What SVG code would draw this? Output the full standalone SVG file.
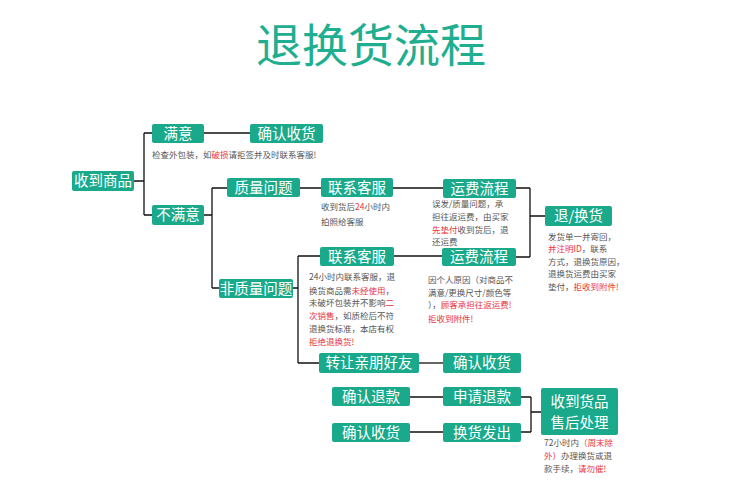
<svg xmlns="http://www.w3.org/2000/svg" width="750" height="480" viewBox="0 0 750 480">
<style>
.b{fill:#1aa98b}
.t{font-family:"Noto Sans CJK SC","Noto Sans",sans-serif;fill:#fff;font-size:14.5px;text-anchor:middle}
.s{font-family:"Noto Sans CJK SC","Noto Sans",sans-serif;fill:#555;font-size:8.5px}
.r{fill:#e8333c}
.c{fill:none;stroke:#111;stroke-width:1.3}
</style>
<rect width="750" height="480" fill="#fff"/>
<text x="371" y="62" style="font-family:'Noto Sans CJK SC',sans-serif;font-size:46px;fill:#1fae90;text-anchor:middle">退换货流程</text>
<g id="connectors">
<path class="c" d="M134 181H144M144 133V215M144 133H152M144 215H152"/>
<path class="c" d="M204 133H250"/>
<path class="c" d="M204 215H212M212 188V288M212 188H227M212 288H219"/>
<path class="c" d="M300 188H321M393 188H443"/>
<path class="c" d="M516 188H530M530 188V257M516 257H530M530 216H545"/>
<path class="c" d="M293 288H298M298 256V363M298 256H320M298 363H319"/>
<path class="c" d="M394 256H442"/>
<path class="c" d="M419 363H443"/>
<path class="c" d="M410 397H443M410 432H443"/>
<path class="c" d="M521 397H531M521 432H531M531 397V432M531 412H541"/>
</g>
<g id="n1"><rect class="b" x="72" y="171" width="62" height="20" rx="2"/><text class="t" x="103" y="186">收到商品</text></g>
<g id="n2"><rect class="b" x="152" y="124" width="52" height="19" rx="2"/><text class="t" x="178" y="139">满意</text></g>
<g id="n3"><rect class="b" x="250" y="124" width="73" height="19" rx="2"/><text class="t" x="286.5" y="139">确认收货</text></g>
<text class="s" x="152" y="158">检查外包装，如<tspan class="r">破损</tspan>请拒签并及时联系客服!</text>
<g id="n4"><rect class="b" x="152" y="205" width="52" height="20" rx="2"/><text class="t" x="178" y="220">不满意</text></g>
<g id="n5"><rect class="b" x="227" y="178" width="73" height="19" rx="2"/><text class="t" x="263.5" y="193">质量问题</text></g>
<g id="n6"><rect class="b" x="321" y="178" width="72" height="19" rx="2"/><text class="t" x="357" y="193">联系客服</text></g>
<text class="s" x="321" y="210">收到货后<tspan class="r">24</tspan>小时内</text>
<text class="s" x="321" y="225">拍照给客服</text>
<g id="n7"><rect class="b" x="443" y="179" width="73" height="19" rx="2"/><text class="t" x="479.5" y="194">运费流程</text></g>
<text class="s" x="432" y="207">误发/质量问题，承</text>
<text class="s" x="432" y="220">担往返运费，由买家</text>
<text class="s" x="432" y="233"><tspan class="r">先垫付</tspan>收到货后，退</text>
<text class="s" x="432" y="245">还运费</text>
<g id="n8"><rect class="b" x="545" y="206" width="67" height="20" rx="2"/><text class="t" x="578.5" y="221">退/换货</text></g>
<text class="s" x="548" y="240">发货单一并寄回，</text>
<text class="s" x="548" y="252"><tspan class="r">并注明ID</tspan>，联系</text>
<text class="s" x="548" y="265">方式，退换货原因，</text>
<text class="s" x="548" y="277">退换货运费由买家</text>
<text class="s" x="548" y="290">垫付，<tspan class="r">拒收到附件!</tspan></text>
<g id="n9"><rect class="b" x="219" y="279" width="74" height="19" rx="2"/><text class="t" x="256" y="294">非质量问题</text></g>
<g id="n10"><rect class="b" x="320" y="247" width="74" height="19" rx="2"/><text class="t" x="357" y="262">联系客服</text></g>
<text class="s" x="309" y="280">24小时内联系客服，退</text>
<text class="s" x="309" y="294">换货商品需<tspan class="r">未经使用</tspan>，</text>
<text class="s" x="309" y="306">未破坏包装并不影响<tspan class="r">二</tspan></text>
<text class="s" x="309" y="319"><tspan class="r">次销售</tspan>，如质检后不符</text>
<text class="s" x="309" y="332">退换货标准，本店有权</text>
<text class="s" x="309" y="345"><tspan class="r">拒绝退换货!</tspan></text>
<g id="n11"><rect class="b" x="442" y="248" width="74" height="18" rx="2"/><text class="t" x="479" y="262">运费流程</text></g>
<text class="s" x="428" y="283">因个人原因（对商品不</text>
<text class="s" x="428" y="296">满意/更换尺寸/颜色等</text>
<text class="s" x="428" y="308">），<tspan class="r">顾客承担往返运费!</tspan></text>
<text class="s" x="428" y="322"><tspan class="r">拒收到附件!</tspan></text>
<g id="n12"><rect class="b" x="319" y="353" width="100" height="20" rx="2"/><text class="t" x="369" y="368">转让亲朋好友</text></g>
<g id="n13"><rect class="b" x="443" y="353" width="78" height="20" rx="2"/><text class="t" x="482" y="368">确认收货</text></g>
<g id="n14"><rect class="b" x="332" y="387" width="78" height="19" rx="2"/><text class="t" x="371" y="402">确认退款</text></g>
<g id="n15"><rect class="b" x="443" y="387" width="78" height="19" rx="2"/><text class="t" x="482" y="402">申请退款</text></g>
<g id="n16"><rect class="b" x="332" y="423" width="78" height="19" rx="2"/><text class="t" x="371" y="438">确认收货</text></g>
<g id="n17"><rect class="b" x="443" y="423" width="78" height="19" rx="2"/><text class="t" x="482" y="438">换货发出</text></g>
<g id="n18"><rect class="b" x="541" y="388" width="77" height="47" rx="2"/><text class="t" x="579.5" y="407">收到货品</text><text class="t" x="579.5" y="428">售后处理</text></g>
<text class="s" x="544" y="446">72小时内<tspan class="r">（周末除</tspan></text>
<text class="s" x="544" y="459"><tspan class="r">外）</tspan>办理换货或退</text>
<text class="s" x="544" y="472">款手续，<tspan class="r">请勿催!</tspan></text>
</svg>
